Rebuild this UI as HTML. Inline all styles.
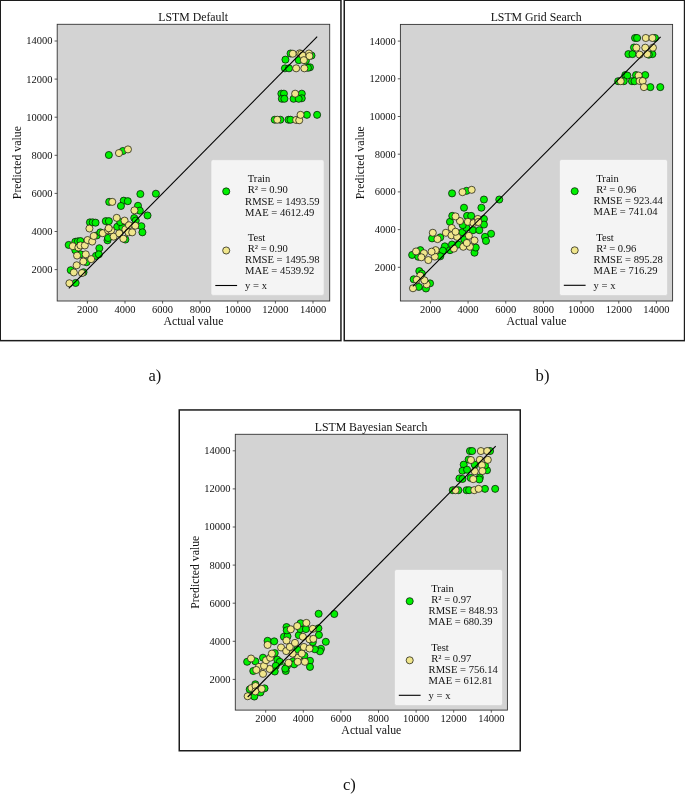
<!DOCTYPE html>
<html lang="en">
<head>
<meta charset="utf-8">
<title>LSTM scatter plots</title>
<style>
html,body{margin:0;padding:0;background:#fff;}
body{width:685px;height:794px;overflow:hidden;}
svg{display:block;font-family:"Liberation Serif", serif;will-change:transform;}
svg text{fill:#111;}
</style>
</head>
<body>
<svg width="685" height="794" viewBox="0 0 685 794">
<rect x="0" y="0" width="685" height="794" fill="#ffffff"/>
<rect x="0.25" y="0.25" width="340.7" height="340.4" fill="#fff" stroke="#1c1c1c" stroke-width="1.5"/>
<rect x="57.2" y="24.3" width="272.5" height="276.7" fill="#d3d3d3"/>
<g>
<circle cx="75.64" cy="282.96" r="3.55" fill="#00f000" stroke="#061806" stroke-width="0.75"/>
<circle cx="70.73" cy="270.18" r="3.55" fill="#00f000" stroke="#061806" stroke-width="0.75"/>
<circle cx="83.5" cy="272.23" r="3.55" fill="#00f000" stroke="#061806" stroke-width="0.75"/>
<circle cx="68.69" cy="244.94" r="3.55" fill="#00f000" stroke="#061806" stroke-width="0.75"/>
<circle cx="75.33" cy="241.77" r="3.55" fill="#00f000" stroke="#061806" stroke-width="0.75"/>
<circle cx="77.88" cy="241.36" r="3.55" fill="#00f000" stroke="#061806" stroke-width="0.75"/>
<circle cx="80.44" cy="241.06" r="3.55" fill="#00f000" stroke="#061806" stroke-width="0.75"/>
<circle cx="99.34" cy="248.21" r="3.55" fill="#00f000" stroke="#061806" stroke-width="0.75"/>
<circle cx="95.97" cy="255.88" r="3.55" fill="#00f000" stroke="#061806" stroke-width="0.75"/>
<circle cx="98.83" cy="254.34" r="3.55" fill="#00f000" stroke="#061806" stroke-width="0.75"/>
<circle cx="86.57" cy="262.21" r="3.55" fill="#00f000" stroke="#061806" stroke-width="0.75"/>
<circle cx="89.94" cy="222.36" r="3.55" fill="#00f000" stroke="#061806" stroke-width="0.75"/>
<circle cx="92.7" cy="222.36" r="3.55" fill="#00f000" stroke="#061806" stroke-width="0.75"/>
<circle cx="95.56" cy="222.66" r="3.55" fill="#00f000" stroke="#061806" stroke-width="0.75"/>
<circle cx="105.78" cy="221.13" r="3.55" fill="#00f000" stroke="#061806" stroke-width="0.75"/>
<circle cx="108.85" cy="221.13" r="3.55" fill="#00f000" stroke="#061806" stroke-width="0.75"/>
<circle cx="107.52" cy="240.34" r="3.55" fill="#00f000" stroke="#061806" stroke-width="0.75"/>
<circle cx="108.03" cy="237.99" r="3.55" fill="#00f000" stroke="#061806" stroke-width="0.75"/>
<circle cx="117.23" cy="226.75" r="3.55" fill="#00f000" stroke="#061806" stroke-width="0.75"/>
<circle cx="122.34" cy="227.26" r="3.55" fill="#00f000" stroke="#061806" stroke-width="0.75"/>
<circle cx="120.29" cy="222.15" r="3.55" fill="#00f000" stroke="#061806" stroke-width="0.75"/>
<circle cx="125.4" cy="239.53" r="3.55" fill="#00f000" stroke="#061806" stroke-width="0.75"/>
<circle cx="96.79" cy="235.44" r="3.55" fill="#00f000" stroke="#061806" stroke-width="0.75"/>
<circle cx="100.36" cy="232.37" r="3.55" fill="#00f000" stroke="#061806" stroke-width="0.75"/>
<circle cx="75.33" cy="250.26" r="3.55" fill="#00f000" stroke="#061806" stroke-width="0.75"/>
<circle cx="80.44" cy="254.34" r="3.55" fill="#00f000" stroke="#061806" stroke-width="0.75"/>
<circle cx="140.36" cy="194.01" r="3.55" fill="#00f000" stroke="#061806" stroke-width="0.75"/>
<circle cx="155.9" cy="193.71" r="3.55" fill="#00f000" stroke="#061806" stroke-width="0.75"/>
<circle cx="109.2" cy="201.88" r="3.55" fill="#00f000" stroke="#061806" stroke-width="0.75"/>
<circle cx="123.71" cy="200.66" r="3.55" fill="#00f000" stroke="#061806" stroke-width="0.75"/>
<circle cx="127.8" cy="201.17" r="3.55" fill="#00f000" stroke="#061806" stroke-width="0.75"/>
<circle cx="120.95" cy="205.97" r="3.55" fill="#00f000" stroke="#061806" stroke-width="0.75"/>
<circle cx="138.01" cy="205.77" r="3.55" fill="#00f000" stroke="#061806" stroke-width="0.75"/>
<circle cx="139.85" cy="210.67" r="3.55" fill="#00f000" stroke="#061806" stroke-width="0.75"/>
<circle cx="147.52" cy="215.47" r="3.55" fill="#00f000" stroke="#061806" stroke-width="0.75"/>
<circle cx="134.23" cy="218.03" r="3.55" fill="#00f000" stroke="#061806" stroke-width="0.75"/>
<circle cx="135.77" cy="220.58" r="3.55" fill="#00f000" stroke="#061806" stroke-width="0.75"/>
<circle cx="141.39" cy="226.2" r="3.55" fill="#00f000" stroke="#061806" stroke-width="0.75"/>
<circle cx="142.41" cy="232.34" r="3.55" fill="#00f000" stroke="#061806" stroke-width="0.75"/>
<circle cx="108.85" cy="155.02" r="3.55" fill="#00f000" stroke="#061806" stroke-width="0.75"/>
<circle cx="122.85" cy="151.04" r="3.55" fill="#00f000" stroke="#061806" stroke-width="0.75"/>
<circle cx="285.44" cy="59.64" r="3.55" fill="#00f000" stroke="#061806" stroke-width="0.75"/>
<circle cx="290.55" cy="53.5" r="3.55" fill="#00f000" stroke="#061806" stroke-width="0.75"/>
<circle cx="284.93" cy="68.32" r="3.55" fill="#00f000" stroke="#061806" stroke-width="0.75"/>
<circle cx="289.01" cy="68.32" r="3.55" fill="#00f000" stroke="#061806" stroke-width="0.75"/>
<circle cx="298.72" cy="60.15" r="3.55" fill="#00f000" stroke="#061806" stroke-width="0.75"/>
<circle cx="309.96" cy="67.3" r="3.55" fill="#00f000" stroke="#061806" stroke-width="0.75"/>
<circle cx="307.92" cy="67.81" r="3.55" fill="#00f000" stroke="#061806" stroke-width="0.75"/>
<circle cx="311.5" cy="55.55" r="3.55" fill="#00f000" stroke="#061806" stroke-width="0.75"/>
<circle cx="305.88" cy="60.66" r="3.55" fill="#00f000" stroke="#061806" stroke-width="0.75"/>
<circle cx="281.35" cy="93.69" r="3.55" fill="#00f000" stroke="#061806" stroke-width="0.75"/>
<circle cx="283.91" cy="93.69" r="3.55" fill="#00f000" stroke="#061806" stroke-width="0.75"/>
<circle cx="281.86" cy="98.8" r="3.55" fill="#00f000" stroke="#061806" stroke-width="0.75"/>
<circle cx="284.42" cy="98.8" r="3.55" fill="#00f000" stroke="#061806" stroke-width="0.75"/>
<circle cx="293.61" cy="98.8" r="3.55" fill="#00f000" stroke="#061806" stroke-width="0.75"/>
<circle cx="301.79" cy="93.69" r="3.55" fill="#00f000" stroke="#061806" stroke-width="0.75"/>
<circle cx="301.79" cy="98.28" r="3.55" fill="#00f000" stroke="#061806" stroke-width="0.75"/>
<circle cx="298.72" cy="98.8" r="3.55" fill="#00f000" stroke="#061806" stroke-width="0.75"/>
<circle cx="306.9" cy="114.84" r="3.55" fill="#00f000" stroke="#061806" stroke-width="0.75"/>
<circle cx="317.12" cy="114.84" r="3.55" fill="#00f000" stroke="#061806" stroke-width="0.75"/>
<circle cx="274.71" cy="119.74" r="3.55" fill="#00f000" stroke="#061806" stroke-width="0.75"/>
<circle cx="280.33" cy="119.74" r="3.55" fill="#00f000" stroke="#061806" stroke-width="0.75"/>
<circle cx="288.5" cy="119.74" r="3.55" fill="#00f000" stroke="#061806" stroke-width="0.75"/>
<circle cx="290.55" cy="119.74" r="3.55" fill="#00f000" stroke="#061806" stroke-width="0.75"/>
<circle cx="69.4" cy="283.26" r="3.55" fill="#f0e68c" stroke="#1c1c10" stroke-width="0.75"/>
<circle cx="73.8" cy="272.43" r="3.55" fill="#f0e68c" stroke="#1c1c10" stroke-width="0.75"/>
<circle cx="81.97" cy="273.04" r="3.55" fill="#f0e68c" stroke="#1c1c10" stroke-width="0.75"/>
<circle cx="76.66" cy="265.28" r="3.55" fill="#f0e68c" stroke="#1c1c10" stroke-width="0.75"/>
<circle cx="83.3" cy="261.5" r="3.55" fill="#f0e68c" stroke="#1c1c10" stroke-width="0.75"/>
<circle cx="91.17" cy="259.15" r="3.55" fill="#f0e68c" stroke="#1c1c10" stroke-width="0.75"/>
<circle cx="77.07" cy="255.57" r="3.55" fill="#f0e68c" stroke="#1c1c10" stroke-width="0.75"/>
<circle cx="85.75" cy="254.34" r="3.55" fill="#f0e68c" stroke="#1c1c10" stroke-width="0.75"/>
<circle cx="72.77" cy="246.17" r="3.55" fill="#f0e68c" stroke="#1c1c10" stroke-width="0.75"/>
<circle cx="78.39" cy="247.5" r="3.55" fill="#f0e68c" stroke="#1c1c10" stroke-width="0.75"/>
<circle cx="80.44" cy="245.45" r="3.55" fill="#f0e68c" stroke="#1c1c10" stroke-width="0.75"/>
<circle cx="84.83" cy="245.45" r="3.55" fill="#f0e68c" stroke="#1c1c10" stroke-width="0.75"/>
<circle cx="87.59" cy="240.04" r="3.55" fill="#f0e68c" stroke="#1c1c10" stroke-width="0.75"/>
<circle cx="92.19" cy="241.57" r="3.55" fill="#f0e68c" stroke="#1c1c10" stroke-width="0.75"/>
<circle cx="93.72" cy="235.95" r="3.55" fill="#f0e68c" stroke="#1c1c10" stroke-width="0.75"/>
<circle cx="89.43" cy="228.49" r="3.55" fill="#f0e68c" stroke="#1c1c10" stroke-width="0.75"/>
<circle cx="102.72" cy="233.19" r="3.55" fill="#f0e68c" stroke="#1c1c10" stroke-width="0.75"/>
<circle cx="108.03" cy="230.33" r="3.55" fill="#f0e68c" stroke="#1c1c10" stroke-width="0.75"/>
<circle cx="111.09" cy="230.33" r="3.55" fill="#f0e68c" stroke="#1c1c10" stroke-width="0.75"/>
<circle cx="113.65" cy="236.66" r="3.55" fill="#f0e68c" stroke="#1c1c10" stroke-width="0.75"/>
<circle cx="119.27" cy="233.39" r="3.55" fill="#f0e68c" stroke="#1c1c10" stroke-width="0.75"/>
<circle cx="123.36" cy="238.71" r="3.55" fill="#f0e68c" stroke="#1c1c10" stroke-width="0.75"/>
<circle cx="116.72" cy="217.86" r="3.55" fill="#f0e68c" stroke="#1c1c10" stroke-width="0.75"/>
<circle cx="124.58" cy="220.62" r="3.55" fill="#f0e68c" stroke="#1c1c10" stroke-width="0.75"/>
<circle cx="125.4" cy="229.31" r="3.55" fill="#f0e68c" stroke="#1c1c10" stroke-width="0.75"/>
<circle cx="128.98" cy="225.22" r="3.55" fill="#f0e68c" stroke="#1c1c10" stroke-width="0.75"/>
<circle cx="128.47" cy="232.37" r="3.55" fill="#f0e68c" stroke="#1c1c10" stroke-width="0.75"/>
<circle cx="112.26" cy="201.88" r="3.55" fill="#f0e68c" stroke="#1c1c10" stroke-width="0.75"/>
<circle cx="134.44" cy="210.36" r="3.55" fill="#f0e68c" stroke="#1c1c10" stroke-width="0.75"/>
<circle cx="135.26" cy="225.69" r="3.55" fill="#f0e68c" stroke="#1c1c10" stroke-width="0.75"/>
<circle cx="108.69" cy="228.25" r="3.55" fill="#f0e68c" stroke="#1c1c10" stroke-width="0.75"/>
<circle cx="132.19" cy="232.34" r="3.55" fill="#f0e68c" stroke="#1c1c10" stroke-width="0.75"/>
<circle cx="118.96" cy="153.08" r="3.55" fill="#f0e68c" stroke="#1c1c10" stroke-width="0.75"/>
<circle cx="127.96" cy="149.4" r="3.55" fill="#f0e68c" stroke="#1c1c10" stroke-width="0.75"/>
<circle cx="292.8" cy="53.71" r="3.55" fill="#f0e68c" stroke="#1c1c10" stroke-width="0.75"/>
<circle cx="299.74" cy="53.3" r="3.55" fill="#f0e68c" stroke="#1c1c10" stroke-width="0.75"/>
<circle cx="301.28" cy="54.01" r="3.55" fill="#f0e68c" stroke="#1c1c10" stroke-width="0.75"/>
<circle cx="302.81" cy="55.55" r="3.55" fill="#f0e68c" stroke="#1c1c10" stroke-width="0.75"/>
<circle cx="308.94" cy="53.5" r="3.55" fill="#f0e68c" stroke="#1c1c10" stroke-width="0.75"/>
<circle cx="309.45" cy="56.06" r="3.55" fill="#f0e68c" stroke="#1c1c10" stroke-width="0.75"/>
<circle cx="303.83" cy="60.15" r="3.55" fill="#f0e68c" stroke="#1c1c10" stroke-width="0.75"/>
<circle cx="296.17" cy="68.32" r="3.55" fill="#f0e68c" stroke="#1c1c10" stroke-width="0.75"/>
<circle cx="304.34" cy="68.32" r="3.55" fill="#f0e68c" stroke="#1c1c10" stroke-width="0.75"/>
<circle cx="295.15" cy="93.69" r="3.55" fill="#f0e68c" stroke="#1c1c10" stroke-width="0.75"/>
<circle cx="277.26" cy="119.74" r="3.55" fill="#f0e68c" stroke="#1c1c10" stroke-width="0.75"/>
<circle cx="296.17" cy="119.95" r="3.55" fill="#f0e68c" stroke="#1c1c10" stroke-width="0.75"/>
<circle cx="299.23" cy="120.26" r="3.55" fill="#f0e68c" stroke="#1c1c10" stroke-width="0.75"/>
<circle cx="300.56" cy="114.84" r="3.55" fill="#f0e68c" stroke="#1c1c10" stroke-width="0.75"/>
</g>
<line x1="68.8" y1="288.4" x2="317.2" y2="36.7" stroke="#000" stroke-width="1.1"/>
<rect x="57.2" y="24.3" width="272.5" height="276.7" fill="none" stroke="#333" stroke-width="0.9"/>
<line x1="87.4" y1="301" x2="87.4" y2="303.6" stroke="#333" stroke-width="0.8"/>
<text x="87.4" y="312.6" font-size="10.5" text-anchor="middle">2000</text>
<line x1="54.6" y1="269.6" x2="57.2" y2="269.6" stroke="#333" stroke-width="0.8"/>
<text x="52.5" y="273" font-size="10.5" text-anchor="end">2000</text>
<line x1="125" y1="301" x2="125" y2="303.6" stroke="#333" stroke-width="0.8"/>
<text x="125" y="312.6" font-size="10.5" text-anchor="middle">4000</text>
<line x1="54.6" y1="231.5" x2="57.2" y2="231.5" stroke="#333" stroke-width="0.8"/>
<text x="52.5" y="234.9" font-size="10.5" text-anchor="end">4000</text>
<line x1="162.6" y1="301" x2="162.6" y2="303.6" stroke="#333" stroke-width="0.8"/>
<text x="162.6" y="312.6" font-size="10.5" text-anchor="middle">6000</text>
<line x1="54.6" y1="193.4" x2="57.2" y2="193.4" stroke="#333" stroke-width="0.8"/>
<text x="52.5" y="196.8" font-size="10.5" text-anchor="end">6000</text>
<line x1="200.2" y1="301" x2="200.2" y2="303.6" stroke="#333" stroke-width="0.8"/>
<text x="200.2" y="312.6" font-size="10.5" text-anchor="middle">8000</text>
<line x1="54.6" y1="155.3" x2="57.2" y2="155.3" stroke="#333" stroke-width="0.8"/>
<text x="52.5" y="158.7" font-size="10.5" text-anchor="end">8000</text>
<line x1="237.8" y1="301" x2="237.8" y2="303.6" stroke="#333" stroke-width="0.8"/>
<text x="237.8" y="312.6" font-size="10.5" text-anchor="middle">10000</text>
<line x1="54.6" y1="117.2" x2="57.2" y2="117.2" stroke="#333" stroke-width="0.8"/>
<text x="52.5" y="120.6" font-size="10.5" text-anchor="end">10000</text>
<line x1="275.4" y1="301" x2="275.4" y2="303.6" stroke="#333" stroke-width="0.8"/>
<text x="275.4" y="312.6" font-size="10.5" text-anchor="middle">12000</text>
<line x1="54.6" y1="79.1" x2="57.2" y2="79.1" stroke="#333" stroke-width="0.8"/>
<text x="52.5" y="82.5" font-size="10.5" text-anchor="end">12000</text>
<line x1="313" y1="301" x2="313" y2="303.6" stroke="#333" stroke-width="0.8"/>
<text x="313" y="312.6" font-size="10.5" text-anchor="middle">14000</text>
<line x1="54.6" y1="41" x2="57.2" y2="41" stroke="#333" stroke-width="0.8"/>
<text x="52.5" y="44.4" font-size="10.5" text-anchor="end">14000</text>
<text x="193.15" y="21.2" font-size="11.8" text-anchor="middle">LSTM Default</text>
<text x="193.45" y="325.2" font-size="11.8" text-anchor="middle">Actual value</text>
<text transform="translate(21.1,162.65) rotate(-90)" font-size="11.8" text-anchor="middle">Predicted value</text>
<rect x="211" y="159.7" width="113.1" height="135.7" rx="2.2" ry="2.2" fill="#f4f4f4" stroke="#d0d0d0" stroke-width="0.6"/>
<circle cx="226.2" cy="191.4" r="3.55" fill="#00f000" stroke="#061806" stroke-width="0.75"/>
<circle cx="226.2" cy="250.5" r="3.55" fill="#f0e68c" stroke="#1c1c10" stroke-width="0.75"/>
<line x1="215.3" y1="285.5" x2="237.1" y2="285.5" stroke="#000" stroke-width="1.1"/>
<text x="247.75" y="182.4" font-size="10.6">Train</text>
<text x="247.75" y="193.47" font-size="10.6">R² = 0.90</text>
<text x="245.1" y="204.54" font-size="10.6">RMSE = 1493.59</text>
<text x="245.1" y="215.61" font-size="10.6">MAE = 4612.49</text>
<text x="247.75" y="241.1" font-size="10.6">Test</text>
<text x="247.75" y="252.17" font-size="10.6">R² = 0.90</text>
<text x="245.1" y="263.24" font-size="10.6">RMSE = 1495.98</text>
<text x="245.1" y="274.31" font-size="10.6">MAE = 4539.92</text>
<text x="245.1" y="289" font-size="10.6">y = x</text>
<rect x="344.25" y="0.25" width="340.3" height="340.4" fill="#fff" stroke="#1c1c1c" stroke-width="1.5"/>
<rect x="400.4" y="24.4" width="272.2" height="276.6" fill="#d3d3d3"/>
<g>
<circle cx="412.15" cy="254.95" r="3.55" fill="#00f000" stroke="#061806" stroke-width="0.75"/>
<circle cx="419.31" cy="271.09" r="3.55" fill="#00f000" stroke="#061806" stroke-width="0.75"/>
<circle cx="421.86" cy="273.65" r="3.55" fill="#00f000" stroke="#061806" stroke-width="0.75"/>
<circle cx="413.69" cy="279.27" r="3.55" fill="#00f000" stroke="#061806" stroke-width="0.75"/>
<circle cx="418.8" cy="286.93" r="3.55" fill="#00f000" stroke="#061806" stroke-width="0.75"/>
<circle cx="425.95" cy="288.47" r="3.55" fill="#00f000" stroke="#061806" stroke-width="0.75"/>
<circle cx="430.04" cy="283.36" r="3.55" fill="#00f000" stroke="#061806" stroke-width="0.75"/>
<circle cx="432.08" cy="238.39" r="3.55" fill="#00f000" stroke="#061806" stroke-width="0.75"/>
<circle cx="440.26" cy="237.37" r="3.55" fill="#00f000" stroke="#061806" stroke-width="0.75"/>
<circle cx="444.85" cy="246.36" r="3.55" fill="#00f000" stroke="#061806" stroke-width="0.75"/>
<circle cx="442.81" cy="250.66" r="3.55" fill="#00f000" stroke="#061806" stroke-width="0.75"/>
<circle cx="440.26" cy="256.28" r="3.55" fill="#00f000" stroke="#061806" stroke-width="0.75"/>
<circle cx="449.96" cy="221.84" r="3.55" fill="#00f000" stroke="#061806" stroke-width="0.75"/>
<circle cx="449.96" cy="250.15" r="3.55" fill="#00f000" stroke="#061806" stroke-width="0.75"/>
<circle cx="458.14" cy="244.53" r="3.55" fill="#00f000" stroke="#061806" stroke-width="0.75"/>
<circle cx="464.27" cy="239.42" r="3.55" fill="#00f000" stroke="#061806" stroke-width="0.75"/>
<circle cx="462.23" cy="232.26" r="3.55" fill="#00f000" stroke="#061806" stroke-width="0.75"/>
<circle cx="466.31" cy="227.66" r="3.55" fill="#00f000" stroke="#061806" stroke-width="0.75"/>
<circle cx="462.74" cy="225.11" r="3.55" fill="#00f000" stroke="#061806" stroke-width="0.75"/>
<circle cx="472.96" cy="230.22" r="3.55" fill="#00f000" stroke="#061806" stroke-width="0.75"/>
<circle cx="474.49" cy="252.7" r="3.55" fill="#00f000" stroke="#061806" stroke-width="0.75"/>
<circle cx="418.28" cy="256.79" r="3.55" fill="#00f000" stroke="#061806" stroke-width="0.75"/>
<circle cx="420.33" cy="250.15" r="3.55" fill="#00f000" stroke="#061806" stroke-width="0.75"/>
<circle cx="452.01" cy="244.53" r="3.55" fill="#00f000" stroke="#061806" stroke-width="0.75"/>
<circle cx="452.06" cy="193.39" r="3.55" fill="#00f000" stroke="#061806" stroke-width="0.75"/>
<circle cx="466.57" cy="190.84" r="3.55" fill="#00f000" stroke="#061806" stroke-width="0.75"/>
<circle cx="483.94" cy="199.53" r="3.55" fill="#00f000" stroke="#061806" stroke-width="0.75"/>
<circle cx="499.27" cy="199.53" r="3.55" fill="#00f000" stroke="#061806" stroke-width="0.75"/>
<circle cx="464.01" cy="207.7" r="3.55" fill="#00f000" stroke="#061806" stroke-width="0.75"/>
<circle cx="481.39" cy="207.7" r="3.55" fill="#00f000" stroke="#061806" stroke-width="0.75"/>
<circle cx="452.26" cy="215.88" r="3.55" fill="#00f000" stroke="#061806" stroke-width="0.75"/>
<circle cx="467.08" cy="215.88" r="3.55" fill="#00f000" stroke="#061806" stroke-width="0.75"/>
<circle cx="471.17" cy="215.88" r="3.55" fill="#00f000" stroke="#061806" stroke-width="0.75"/>
<circle cx="483.94" cy="218.94" r="3.55" fill="#00f000" stroke="#061806" stroke-width="0.75"/>
<circle cx="483.94" cy="224.56" r="3.55" fill="#00f000" stroke="#061806" stroke-width="0.75"/>
<circle cx="479.34" cy="230.18" r="3.55" fill="#00f000" stroke="#061806" stroke-width="0.75"/>
<circle cx="491.09" cy="233.76" r="3.55" fill="#00f000" stroke="#061806" stroke-width="0.75"/>
<circle cx="484.96" cy="236.82" r="3.55" fill="#00f000" stroke="#061806" stroke-width="0.75"/>
<circle cx="485.99" cy="240.91" r="3.55" fill="#00f000" stroke="#061806" stroke-width="0.75"/>
<circle cx="475.77" cy="247.55" r="3.55" fill="#00f000" stroke="#061806" stroke-width="0.75"/>
<circle cx="635.04" cy="37.98" r="3.55" fill="#00f000" stroke="#061806" stroke-width="0.75"/>
<circle cx="637.08" cy="37.98" r="3.55" fill="#00f000" stroke="#061806" stroke-width="0.75"/>
<circle cx="654.96" cy="37.98" r="3.55" fill="#00f000" stroke="#061806" stroke-width="0.75"/>
<circle cx="628.39" cy="54.12" r="3.55" fill="#00f000" stroke="#061806" stroke-width="0.75"/>
<circle cx="632.48" cy="54.12" r="3.55" fill="#00f000" stroke="#061806" stroke-width="0.75"/>
<circle cx="634.01" cy="47.48" r="3.55" fill="#00f000" stroke="#061806" stroke-width="0.75"/>
<circle cx="652.41" cy="54.12" r="3.55" fill="#00f000" stroke="#061806" stroke-width="0.75"/>
<circle cx="648.83" cy="54.64" r="3.55" fill="#00f000" stroke="#061806" stroke-width="0.75"/>
<circle cx="625.33" cy="75.07" r="3.55" fill="#00f000" stroke="#061806" stroke-width="0.75"/>
<circle cx="627.37" cy="75.58" r="3.55" fill="#00f000" stroke="#061806" stroke-width="0.75"/>
<circle cx="645.26" cy="75.07" r="3.55" fill="#00f000" stroke="#061806" stroke-width="0.75"/>
<circle cx="636.06" cy="75.07" r="3.55" fill="#00f000" stroke="#061806" stroke-width="0.75"/>
<circle cx="618.18" cy="81.2" r="3.55" fill="#00f000" stroke="#061806" stroke-width="0.75"/>
<circle cx="623.8" cy="81.2" r="3.55" fill="#00f000" stroke="#061806" stroke-width="0.75"/>
<circle cx="631.97" cy="81.2" r="3.55" fill="#00f000" stroke="#061806" stroke-width="0.75"/>
<circle cx="634.53" cy="81.2" r="3.55" fill="#00f000" stroke="#061806" stroke-width="0.75"/>
<circle cx="650.36" cy="87.13" r="3.55" fill="#00f000" stroke="#061806" stroke-width="0.75"/>
<circle cx="660.28" cy="87.13" r="3.55" fill="#00f000" stroke="#061806" stroke-width="0.75"/>
<circle cx="412.97" cy="288.26" r="3.55" fill="#f0e68c" stroke="#1c1c10" stroke-width="0.75"/>
<circle cx="426.66" cy="284.38" r="3.55" fill="#f0e68c" stroke="#1c1c10" stroke-width="0.75"/>
<circle cx="424.42" cy="280.29" r="3.55" fill="#f0e68c" stroke="#1c1c10" stroke-width="0.75"/>
<circle cx="420.33" cy="275.69" r="3.55" fill="#f0e68c" stroke="#1c1c10" stroke-width="0.75"/>
<circle cx="416.75" cy="279.78" r="3.55" fill="#f0e68c" stroke="#1c1c10" stroke-width="0.75"/>
<circle cx="416.04" cy="251.47" r="3.55" fill="#f0e68c" stroke="#1c1c10" stroke-width="0.75"/>
<circle cx="423.91" cy="253.21" r="3.55" fill="#f0e68c" stroke="#1c1c10" stroke-width="0.75"/>
<circle cx="421.35" cy="257.3" r="3.55" fill="#f0e68c" stroke="#1c1c10" stroke-width="0.75"/>
<circle cx="428.3" cy="260.06" r="3.55" fill="#f0e68c" stroke="#1c1c10" stroke-width="0.75"/>
<circle cx="434.84" cy="256.58" r="3.55" fill="#f0e68c" stroke="#1c1c10" stroke-width="0.75"/>
<circle cx="435.66" cy="250.15" r="3.55" fill="#f0e68c" stroke="#1c1c10" stroke-width="0.75"/>
<circle cx="431.57" cy="251.68" r="3.55" fill="#f0e68c" stroke="#1c1c10" stroke-width="0.75"/>
<circle cx="432.8" cy="232.77" r="3.55" fill="#f0e68c" stroke="#1c1c10" stroke-width="0.75"/>
<circle cx="437.5" cy="239.11" r="3.55" fill="#f0e68c" stroke="#1c1c10" stroke-width="0.75"/>
<circle cx="445.88" cy="232.77" r="3.55" fill="#f0e68c" stroke="#1c1c10" stroke-width="0.75"/>
<circle cx="451.7" cy="227.97" r="3.55" fill="#f0e68c" stroke="#1c1c10" stroke-width="0.75"/>
<circle cx="451.5" cy="235.33" r="3.55" fill="#f0e68c" stroke="#1c1c10" stroke-width="0.75"/>
<circle cx="457.12" cy="236.86" r="3.55" fill="#f0e68c" stroke="#1c1c10" stroke-width="0.75"/>
<circle cx="455.58" cy="231.75" r="3.55" fill="#f0e68c" stroke="#1c1c10" stroke-width="0.75"/>
<circle cx="453.85" cy="248.61" r="3.55" fill="#f0e68c" stroke="#1c1c10" stroke-width="0.75"/>
<circle cx="463.25" cy="246.77" r="3.55" fill="#f0e68c" stroke="#1c1c10" stroke-width="0.75"/>
<circle cx="469.89" cy="246.77" r="3.55" fill="#f0e68c" stroke="#1c1c10" stroke-width="0.75"/>
<circle cx="466.82" cy="242.99" r="3.55" fill="#f0e68c" stroke="#1c1c10" stroke-width="0.75"/>
<circle cx="468.87" cy="235.84" r="3.55" fill="#f0e68c" stroke="#1c1c10" stroke-width="0.75"/>
<circle cx="459.98" cy="221.02" r="3.55" fill="#f0e68c" stroke="#1c1c10" stroke-width="0.75"/>
<circle cx="467.85" cy="221.84" r="3.55" fill="#f0e68c" stroke="#1c1c10" stroke-width="0.75"/>
<circle cx="474.49" cy="240.44" r="3.55" fill="#f0e68c" stroke="#1c1c10" stroke-width="0.75"/>
<circle cx="473.47" cy="223.07" r="3.55" fill="#f0e68c" stroke="#1c1c10" stroke-width="0.75"/>
<circle cx="462.48" cy="192.17" r="3.55" fill="#f0e68c" stroke="#1c1c10" stroke-width="0.75"/>
<circle cx="471.68" cy="189.82" r="3.55" fill="#f0e68c" stroke="#1c1c10" stroke-width="0.75"/>
<circle cx="455.53" cy="216.39" r="3.55" fill="#f0e68c" stroke="#1c1c10" stroke-width="0.75"/>
<circle cx="477.81" cy="218.94" r="3.55" fill="#f0e68c" stroke="#1c1c10" stroke-width="0.75"/>
<circle cx="478.32" cy="222.01" r="3.55" fill="#f0e68c" stroke="#1c1c10" stroke-width="0.75"/>
<circle cx="645.77" cy="37.98" r="3.55" fill="#f0e68c" stroke="#1c1c10" stroke-width="0.75"/>
<circle cx="652.41" cy="37.98" r="3.55" fill="#f0e68c" stroke="#1c1c10" stroke-width="0.75"/>
<circle cx="636.36" cy="47.69" r="3.55" fill="#f0e68c" stroke="#1c1c10" stroke-width="0.75"/>
<circle cx="645.26" cy="47.69" r="3.55" fill="#f0e68c" stroke="#1c1c10" stroke-width="0.75"/>
<circle cx="652.92" cy="47.69" r="3.55" fill="#f0e68c" stroke="#1c1c10" stroke-width="0.75"/>
<circle cx="639.64" cy="54.64" r="3.55" fill="#f0e68c" stroke="#1c1c10" stroke-width="0.75"/>
<circle cx="647.3" cy="54.12" r="3.55" fill="#f0e68c" stroke="#1c1c10" stroke-width="0.75"/>
<circle cx="638.61" cy="75.58" r="3.55" fill="#f0e68c" stroke="#1c1c10" stroke-width="0.75"/>
<circle cx="620.73" cy="81.2" r="3.55" fill="#f0e68c" stroke="#1c1c10" stroke-width="0.75"/>
<circle cx="639.64" cy="81" r="3.55" fill="#f0e68c" stroke="#1c1c10" stroke-width="0.75"/>
<circle cx="642.7" cy="81" r="3.55" fill="#f0e68c" stroke="#1c1c10" stroke-width="0.75"/>
<circle cx="643.93" cy="87.13" r="3.55" fill="#f0e68c" stroke="#1c1c10" stroke-width="0.75"/>
</g>
<line x1="412.8" y1="286.3" x2="660.6" y2="36.8" stroke="#000" stroke-width="1.1"/>
<rect x="400.4" y="24.4" width="272.2" height="276.6" fill="none" stroke="#333" stroke-width="0.9"/>
<line x1="430.4" y1="301" x2="430.4" y2="303.6" stroke="#333" stroke-width="0.8"/>
<text x="430.4" y="312.6" font-size="10.5" text-anchor="middle">2000</text>
<line x1="397.8" y1="267.3" x2="400.4" y2="267.3" stroke="#333" stroke-width="0.8"/>
<text x="395.7" y="270.7" font-size="10.5" text-anchor="end">2000</text>
<line x1="468.07" y1="301" x2="468.07" y2="303.6" stroke="#333" stroke-width="0.8"/>
<text x="468.07" y="312.6" font-size="10.5" text-anchor="middle">4000</text>
<line x1="397.8" y1="229.6" x2="400.4" y2="229.6" stroke="#333" stroke-width="0.8"/>
<text x="395.7" y="233" font-size="10.5" text-anchor="end">4000</text>
<line x1="505.74" y1="301" x2="505.74" y2="303.6" stroke="#333" stroke-width="0.8"/>
<text x="505.74" y="312.6" font-size="10.5" text-anchor="middle">6000</text>
<line x1="397.8" y1="191.9" x2="400.4" y2="191.9" stroke="#333" stroke-width="0.8"/>
<text x="395.7" y="195.3" font-size="10.5" text-anchor="end">6000</text>
<line x1="543.41" y1="301" x2="543.41" y2="303.6" stroke="#333" stroke-width="0.8"/>
<text x="543.41" y="312.6" font-size="10.5" text-anchor="middle">8000</text>
<line x1="397.8" y1="154.2" x2="400.4" y2="154.2" stroke="#333" stroke-width="0.8"/>
<text x="395.7" y="157.6" font-size="10.5" text-anchor="end">8000</text>
<line x1="581.08" y1="301" x2="581.08" y2="303.6" stroke="#333" stroke-width="0.8"/>
<text x="581.08" y="312.6" font-size="10.5" text-anchor="middle">10000</text>
<line x1="397.8" y1="116.5" x2="400.4" y2="116.5" stroke="#333" stroke-width="0.8"/>
<text x="395.7" y="119.9" font-size="10.5" text-anchor="end">10000</text>
<line x1="618.75" y1="301" x2="618.75" y2="303.6" stroke="#333" stroke-width="0.8"/>
<text x="618.75" y="312.6" font-size="10.5" text-anchor="middle">12000</text>
<line x1="397.8" y1="78.8" x2="400.4" y2="78.8" stroke="#333" stroke-width="0.8"/>
<text x="395.7" y="82.2" font-size="10.5" text-anchor="end">12000</text>
<line x1="656.42" y1="301" x2="656.42" y2="303.6" stroke="#333" stroke-width="0.8"/>
<text x="656.42" y="312.6" font-size="10.5" text-anchor="middle">14000</text>
<line x1="397.8" y1="41.1" x2="400.4" y2="41.1" stroke="#333" stroke-width="0.8"/>
<text x="395.7" y="44.5" font-size="10.5" text-anchor="end">14000</text>
<text x="536.2" y="21.3" font-size="11.8" text-anchor="middle">LSTM Grid Search</text>
<text x="536.5" y="325.2" font-size="11.8" text-anchor="middle">Actual value</text>
<text transform="translate(364.3,162.7) rotate(-90)" font-size="11.8" text-anchor="middle">Predicted value</text>
<rect x="559.5" y="159.5" width="108" height="136.1" rx="2.2" ry="2.2" fill="#f4f4f4" stroke="#d0d0d0" stroke-width="0.6"/>
<circle cx="574.7" cy="191.2" r="3.55" fill="#00f000" stroke="#061806" stroke-width="0.75"/>
<circle cx="574.7" cy="250.3" r="3.55" fill="#f0e68c" stroke="#1c1c10" stroke-width="0.75"/>
<line x1="563.8" y1="285.3" x2="585.6" y2="285.3" stroke="#000" stroke-width="1.1"/>
<text x="596.25" y="182.2" font-size="10.6">Train</text>
<text x="596.25" y="193.27" font-size="10.6">R² = 0.96</text>
<text x="593.6" y="204.34" font-size="10.6">RMSE = 923.44</text>
<text x="593.6" y="215.41" font-size="10.6">MAE = 741.04</text>
<text x="596.25" y="240.9" font-size="10.6">Test</text>
<text x="596.25" y="251.97" font-size="10.6">R² = 0.96</text>
<text x="593.6" y="263.04" font-size="10.6">RMSE = 895.28</text>
<text x="593.6" y="274.11" font-size="10.6">MAE = 716.29</text>
<text x="593.6" y="288.8" font-size="10.6">y = x</text>
<rect x="179.25" y="409.95" width="341" height="340.8" fill="#fff" stroke="#1c1c1c" stroke-width="1.5"/>
<rect x="235.3" y="434.3" width="272.1" height="275.8" fill="#d3d3d3"/>
<g>
<circle cx="254.31" cy="696.53" r="3.55" fill="#00f000" stroke="#061806" stroke-width="0.75"/>
<circle cx="249.71" cy="689.38" r="3.55" fill="#00f000" stroke="#061806" stroke-width="0.75"/>
<circle cx="255.33" cy="684.27" r="3.55" fill="#00f000" stroke="#061806" stroke-width="0.75"/>
<circle cx="264.53" cy="688.36" r="3.55" fill="#00f000" stroke="#061806" stroke-width="0.75"/>
<circle cx="260.44" cy="692.45" r="3.55" fill="#00f000" stroke="#061806" stroke-width="0.75"/>
<circle cx="247.15" cy="661.79" r="3.55" fill="#00f000" stroke="#061806" stroke-width="0.75"/>
<circle cx="255.33" cy="661.28" r="3.55" fill="#00f000" stroke="#061806" stroke-width="0.75"/>
<circle cx="253.28" cy="670.99" r="3.55" fill="#00f000" stroke="#061806" stroke-width="0.75"/>
<circle cx="262.99" cy="657.7" r="3.55" fill="#00f000" stroke="#061806" stroke-width="0.75"/>
<circle cx="267.59" cy="640.84" r="3.55" fill="#00f000" stroke="#061806" stroke-width="0.75"/>
<circle cx="274.23" cy="641.35" r="3.55" fill="#00f000" stroke="#061806" stroke-width="0.75"/>
<circle cx="274.74" cy="653.1" r="3.55" fill="#00f000" stroke="#061806" stroke-width="0.75"/>
<circle cx="277.3" cy="659.74" r="3.55" fill="#00f000" stroke="#061806" stroke-width="0.75"/>
<circle cx="279.85" cy="661.79" r="3.55" fill="#00f000" stroke="#061806" stroke-width="0.75"/>
<circle cx="275.77" cy="665.88" r="3.55" fill="#00f000" stroke="#061806" stroke-width="0.75"/>
<circle cx="274.74" cy="671.5" r="3.55" fill="#00f000" stroke="#061806" stroke-width="0.75"/>
<circle cx="285.78" cy="670.99" r="3.55" fill="#00f000" stroke="#061806" stroke-width="0.75"/>
<circle cx="283.94" cy="636.75" r="3.55" fill="#00f000" stroke="#061806" stroke-width="0.75"/>
<circle cx="287.52" cy="636.24" r="3.55" fill="#00f000" stroke="#061806" stroke-width="0.75"/>
<circle cx="286.5" cy="627.04" r="3.55" fill="#00f000" stroke="#061806" stroke-width="0.75"/>
<circle cx="298.76" cy="635.22" r="3.55" fill="#00f000" stroke="#061806" stroke-width="0.75"/>
<circle cx="300.29" cy="629.09" r="3.55" fill="#00f000" stroke="#061806" stroke-width="0.75"/>
<circle cx="305.91" cy="629.09" r="3.55" fill="#00f000" stroke="#061806" stroke-width="0.75"/>
<circle cx="297.23" cy="649.53" r="3.55" fill="#00f000" stroke="#061806" stroke-width="0.75"/>
<circle cx="293.14" cy="661.28" r="3.55" fill="#00f000" stroke="#061806" stroke-width="0.75"/>
<circle cx="294.16" cy="664.34" r="3.55" fill="#00f000" stroke="#061806" stroke-width="0.75"/>
<circle cx="310" cy="660.77" r="3.55" fill="#00f000" stroke="#061806" stroke-width="0.75"/>
<circle cx="310" cy="666.9" r="3.55" fill="#00f000" stroke="#061806" stroke-width="0.75"/>
<circle cx="304.38" cy="655.66" r="3.55" fill="#00f000" stroke="#061806" stroke-width="0.75"/>
<circle cx="287.01" cy="665.88" r="3.55" fill="#00f000" stroke="#061806" stroke-width="0.75"/>
<circle cx="318.64" cy="613.81" r="3.55" fill="#00f000" stroke="#061806" stroke-width="0.75"/>
<circle cx="334.27" cy="614.01" r="3.55" fill="#00f000" stroke="#061806" stroke-width="0.75"/>
<circle cx="300.55" cy="623.21" r="3.55" fill="#00f000" stroke="#061806" stroke-width="0.75"/>
<circle cx="318.43" cy="628.32" r="3.55" fill="#00f000" stroke="#061806" stroke-width="0.75"/>
<circle cx="318.94" cy="634.96" r="3.55" fill="#00f000" stroke="#061806" stroke-width="0.75"/>
<circle cx="325.79" cy="641.81" r="3.55" fill="#00f000" stroke="#061806" stroke-width="0.75"/>
<circle cx="312.81" cy="642.12" r="3.55" fill="#00f000" stroke="#061806" stroke-width="0.75"/>
<circle cx="320.99" cy="648.76" r="3.55" fill="#00f000" stroke="#061806" stroke-width="0.75"/>
<circle cx="319.96" cy="651.31" r="3.55" fill="#00f000" stroke="#061806" stroke-width="0.75"/>
<circle cx="314.85" cy="649.27" r="3.55" fill="#00f000" stroke="#061806" stroke-width="0.75"/>
<circle cx="285.22" cy="668.69" r="3.55" fill="#00f000" stroke="#061806" stroke-width="0.75"/>
<circle cx="286.75" cy="630.36" r="3.55" fill="#00f000" stroke="#061806" stroke-width="0.75"/>
<circle cx="469.94" cy="451.04" r="3.55" fill="#00f000" stroke="#061806" stroke-width="0.75"/>
<circle cx="472.19" cy="451.04" r="3.55" fill="#00f000" stroke="#061806" stroke-width="0.75"/>
<circle cx="490.07" cy="451.04" r="3.55" fill="#00f000" stroke="#061806" stroke-width="0.75"/>
<circle cx="468.61" cy="459.53" r="3.55" fill="#00f000" stroke="#061806" stroke-width="0.75"/>
<circle cx="463.71" cy="464.64" r="3.55" fill="#00f000" stroke="#061806" stroke-width="0.75"/>
<circle cx="462.48" cy="470.77" r="3.55" fill="#00f000" stroke="#061806" stroke-width="0.75"/>
<circle cx="467.08" cy="469.74" r="3.55" fill="#00f000" stroke="#061806" stroke-width="0.75"/>
<circle cx="474.74" cy="464.64" r="3.55" fill="#00f000" stroke="#061806" stroke-width="0.75"/>
<circle cx="487.01" cy="470.26" r="3.55" fill="#00f000" stroke="#061806" stroke-width="0.75"/>
<circle cx="484.96" cy="465.66" r="3.55" fill="#00f000" stroke="#061806" stroke-width="0.75"/>
<circle cx="459.42" cy="478.43" r="3.55" fill="#00f000" stroke="#061806" stroke-width="0.75"/>
<circle cx="462.48" cy="478.94" r="3.55" fill="#00f000" stroke="#061806" stroke-width="0.75"/>
<circle cx="479.85" cy="477.41" r="3.55" fill="#00f000" stroke="#061806" stroke-width="0.75"/>
<circle cx="479.34" cy="479.45" r="3.55" fill="#00f000" stroke="#061806" stroke-width="0.75"/>
<circle cx="470.66" cy="477.92" r="3.55" fill="#00f000" stroke="#061806" stroke-width="0.75"/>
<circle cx="452.77" cy="490.18" r="3.55" fill="#00f000" stroke="#061806" stroke-width="0.75"/>
<circle cx="458.39" cy="490.18" r="3.55" fill="#00f000" stroke="#061806" stroke-width="0.75"/>
<circle cx="466.57" cy="490.18" r="3.55" fill="#00f000" stroke="#061806" stroke-width="0.75"/>
<circle cx="469.12" cy="490.18" r="3.55" fill="#00f000" stroke="#061806" stroke-width="0.75"/>
<circle cx="484.96" cy="488.85" r="3.55" fill="#00f000" stroke="#061806" stroke-width="0.75"/>
<circle cx="495.18" cy="488.85" r="3.55" fill="#00f000" stroke="#061806" stroke-width="0.75"/>
<circle cx="247.66" cy="696.23" r="3.55" fill="#f0e68c" stroke="#1c1c10" stroke-width="0.75"/>
<circle cx="251.45" cy="688.05" r="3.55" fill="#f0e68c" stroke="#1c1c10" stroke-width="0.75"/>
<circle cx="255.53" cy="686.01" r="3.55" fill="#f0e68c" stroke="#1c1c10" stroke-width="0.75"/>
<circle cx="261.66" cy="688.87" r="3.55" fill="#f0e68c" stroke="#1c1c10" stroke-width="0.75"/>
<circle cx="255.33" cy="691.42" r="3.55" fill="#f0e68c" stroke="#1c1c10" stroke-width="0.75"/>
<circle cx="251.04" cy="658.52" r="3.55" fill="#f0e68c" stroke="#1c1c10" stroke-width="0.75"/>
<circle cx="258.91" cy="666.9" r="3.55" fill="#f0e68c" stroke="#1c1c10" stroke-width="0.75"/>
<circle cx="256.35" cy="669.96" r="3.55" fill="#f0e68c" stroke="#1c1c10" stroke-width="0.75"/>
<circle cx="262.99" cy="673.85" r="3.55" fill="#f0e68c" stroke="#1c1c10" stroke-width="0.75"/>
<circle cx="269.64" cy="668.94" r="3.55" fill="#f0e68c" stroke="#1c1c10" stroke-width="0.75"/>
<circle cx="264.01" cy="665.88" r="3.55" fill="#f0e68c" stroke="#1c1c10" stroke-width="0.75"/>
<circle cx="266.06" cy="660.26" r="3.55" fill="#f0e68c" stroke="#1c1c10" stroke-width="0.75"/>
<circle cx="270.15" cy="657.7" r="3.55" fill="#f0e68c" stroke="#1c1c10" stroke-width="0.75"/>
<circle cx="271.88" cy="653.61" r="3.55" fill="#f0e68c" stroke="#1c1c10" stroke-width="0.75"/>
<circle cx="267.59" cy="644.93" r="3.55" fill="#f0e68c" stroke="#1c1c10" stroke-width="0.75"/>
<circle cx="281.08" cy="647.48" r="3.55" fill="#f0e68c" stroke="#1c1c10" stroke-width="0.75"/>
<circle cx="286.5" cy="640.53" r="3.55" fill="#f0e68c" stroke="#1c1c10" stroke-width="0.75"/>
<circle cx="286.19" cy="651.06" r="3.55" fill="#f0e68c" stroke="#1c1c10" stroke-width="0.75"/>
<circle cx="289.77" cy="646.97" r="3.55" fill="#f0e68c" stroke="#1c1c10" stroke-width="0.75"/>
<circle cx="292.63" cy="653.61" r="3.55" fill="#f0e68c" stroke="#1c1c10" stroke-width="0.75"/>
<circle cx="294.98" cy="642.88" r="3.55" fill="#f0e68c" stroke="#1c1c10" stroke-width="0.75"/>
<circle cx="288.54" cy="662.81" r="3.55" fill="#f0e68c" stroke="#1c1c10" stroke-width="0.75"/>
<circle cx="298.25" cy="657.7" r="3.55" fill="#f0e68c" stroke="#1c1c10" stroke-width="0.75"/>
<circle cx="297.74" cy="661.79" r="3.55" fill="#f0e68c" stroke="#1c1c10" stroke-width="0.75"/>
<circle cx="301.82" cy="653.61" r="3.55" fill="#f0e68c" stroke="#1c1c10" stroke-width="0.75"/>
<circle cx="304.89" cy="661.79" r="3.55" fill="#f0e68c" stroke="#1c1c10" stroke-width="0.75"/>
<circle cx="303.87" cy="646.97" r="3.55" fill="#f0e68c" stroke="#1c1c10" stroke-width="0.75"/>
<circle cx="302.85" cy="636.75" r="3.55" fill="#f0e68c" stroke="#1c1c10" stroke-width="0.75"/>
<circle cx="290.79" cy="629.29" r="3.55" fill="#f0e68c" stroke="#1c1c10" stroke-width="0.75"/>
<circle cx="297.23" cy="626.02" r="3.55" fill="#f0e68c" stroke="#1c1c10" stroke-width="0.75"/>
<circle cx="309.49" cy="639.31" r="3.55" fill="#f0e68c" stroke="#1c1c10" stroke-width="0.75"/>
<circle cx="309.49" cy="648.5" r="3.55" fill="#f0e68c" stroke="#1c1c10" stroke-width="0.75"/>
<circle cx="306.37" cy="622.91" r="3.55" fill="#f0e68c" stroke="#1c1c10" stroke-width="0.75"/>
<circle cx="312.81" cy="628.83" r="3.55" fill="#f0e68c" stroke="#1c1c10" stroke-width="0.75"/>
<circle cx="313.32" cy="638.85" r="3.55" fill="#f0e68c" stroke="#1c1c10" stroke-width="0.75"/>
<circle cx="480.88" cy="451.04" r="3.55" fill="#f0e68c" stroke="#1c1c10" stroke-width="0.75"/>
<circle cx="487.21" cy="451.04" r="3.55" fill="#f0e68c" stroke="#1c1c10" stroke-width="0.75"/>
<circle cx="470.96" cy="460.04" r="3.55" fill="#f0e68c" stroke="#1c1c10" stroke-width="0.75"/>
<circle cx="479.85" cy="459.83" r="3.55" fill="#f0e68c" stroke="#1c1c10" stroke-width="0.75"/>
<circle cx="487.82" cy="459.83" r="3.55" fill="#f0e68c" stroke="#1c1c10" stroke-width="0.75"/>
<circle cx="481.9" cy="465.15" r="3.55" fill="#f0e68c" stroke="#1c1c10" stroke-width="0.75"/>
<circle cx="474.74" cy="471.28" r="3.55" fill="#f0e68c" stroke="#1c1c10" stroke-width="0.75"/>
<circle cx="482.41" cy="471.07" r="3.55" fill="#f0e68c" stroke="#1c1c10" stroke-width="0.75"/>
<circle cx="473.21" cy="479.15" r="3.55" fill="#f0e68c" stroke="#1c1c10" stroke-width="0.75"/>
<circle cx="455.53" cy="490.18" r="3.55" fill="#f0e68c" stroke="#1c1c10" stroke-width="0.75"/>
<circle cx="474.23" cy="490.18" r="3.55" fill="#f0e68c" stroke="#1c1c10" stroke-width="0.75"/>
<circle cx="478.63" cy="488.85" r="3.55" fill="#f0e68c" stroke="#1c1c10" stroke-width="0.75"/>
</g>
<line x1="247.7" y1="697" x2="495.7" y2="446.2" stroke="#000" stroke-width="1.1"/>
<rect x="235.3" y="434.3" width="272.1" height="275.8" fill="none" stroke="#333" stroke-width="0.9"/>
<line x1="265.7" y1="710.1" x2="265.7" y2="712.7" stroke="#333" stroke-width="0.8"/>
<text x="265.7" y="721.7" font-size="10.5" text-anchor="middle">2000</text>
<line x1="232.7" y1="679.4" x2="235.3" y2="679.4" stroke="#333" stroke-width="0.8"/>
<text x="230.6" y="682.8" font-size="10.5" text-anchor="end">2000</text>
<line x1="303.3" y1="710.1" x2="303.3" y2="712.7" stroke="#333" stroke-width="0.8"/>
<text x="303.3" y="721.7" font-size="10.5" text-anchor="middle">4000</text>
<line x1="232.7" y1="641.3" x2="235.3" y2="641.3" stroke="#333" stroke-width="0.8"/>
<text x="230.6" y="644.7" font-size="10.5" text-anchor="end">4000</text>
<line x1="340.9" y1="710.1" x2="340.9" y2="712.7" stroke="#333" stroke-width="0.8"/>
<text x="340.9" y="721.7" font-size="10.5" text-anchor="middle">6000</text>
<line x1="232.7" y1="603.2" x2="235.3" y2="603.2" stroke="#333" stroke-width="0.8"/>
<text x="230.6" y="606.6" font-size="10.5" text-anchor="end">6000</text>
<line x1="378.5" y1="710.1" x2="378.5" y2="712.7" stroke="#333" stroke-width="0.8"/>
<text x="378.5" y="721.7" font-size="10.5" text-anchor="middle">8000</text>
<line x1="232.7" y1="565.1" x2="235.3" y2="565.1" stroke="#333" stroke-width="0.8"/>
<text x="230.6" y="568.5" font-size="10.5" text-anchor="end">8000</text>
<line x1="416.1" y1="710.1" x2="416.1" y2="712.7" stroke="#333" stroke-width="0.8"/>
<text x="416.1" y="721.7" font-size="10.5" text-anchor="middle">10000</text>
<line x1="232.7" y1="527" x2="235.3" y2="527" stroke="#333" stroke-width="0.8"/>
<text x="230.6" y="530.4" font-size="10.5" text-anchor="end">10000</text>
<line x1="453.7" y1="710.1" x2="453.7" y2="712.7" stroke="#333" stroke-width="0.8"/>
<text x="453.7" y="721.7" font-size="10.5" text-anchor="middle">12000</text>
<line x1="232.7" y1="488.9" x2="235.3" y2="488.9" stroke="#333" stroke-width="0.8"/>
<text x="230.6" y="492.3" font-size="10.5" text-anchor="end">12000</text>
<line x1="491.3" y1="710.1" x2="491.3" y2="712.7" stroke="#333" stroke-width="0.8"/>
<text x="491.3" y="721.7" font-size="10.5" text-anchor="middle">14000</text>
<line x1="232.7" y1="450.8" x2="235.3" y2="450.8" stroke="#333" stroke-width="0.8"/>
<text x="230.6" y="454.2" font-size="10.5" text-anchor="end">14000</text>
<text x="371.05" y="431.2" font-size="11.8" text-anchor="middle">LSTM Bayesian Search</text>
<text x="371.35" y="734.3" font-size="11.8" text-anchor="middle">Actual value</text>
<text transform="translate(199.2,572.2) rotate(-90)" font-size="11.8" text-anchor="middle">Predicted value</text>
<rect x="394.5" y="569.5" width="108" height="136.1" rx="2.2" ry="2.2" fill="#f4f4f4" stroke="#d0d0d0" stroke-width="0.6"/>
<circle cx="409.7" cy="601.2" r="3.55" fill="#00f000" stroke="#061806" stroke-width="0.75"/>
<circle cx="409.7" cy="660.3" r="3.55" fill="#f0e68c" stroke="#1c1c10" stroke-width="0.75"/>
<line x1="398.8" y1="695.3" x2="420.6" y2="695.3" stroke="#000" stroke-width="1.1"/>
<text x="431.25" y="592.2" font-size="10.6">Train</text>
<text x="431.25" y="603.27" font-size="10.6">R² = 0.97</text>
<text x="428.6" y="614.34" font-size="10.6">RMSE = 848.93</text>
<text x="428.6" y="625.41" font-size="10.6">MAE = 680.39</text>
<text x="431.25" y="650.9" font-size="10.6">Test</text>
<text x="431.25" y="661.97" font-size="10.6">R² = 0.97</text>
<text x="428.6" y="673.04" font-size="10.6">RMSE = 756.14</text>
<text x="428.6" y="684.11" font-size="10.6">MAE = 612.81</text>
<text x="428.6" y="698.8" font-size="10.6">y = x</text>
<text x="148.5" y="381.0" font-size="16.5">a)</text>
<text x="535.6" y="380.6" font-size="16.6">b)</text>
<text x="343.0" y="789.9" font-size="16.6">c)</text>
</svg>
</body>
</html>
